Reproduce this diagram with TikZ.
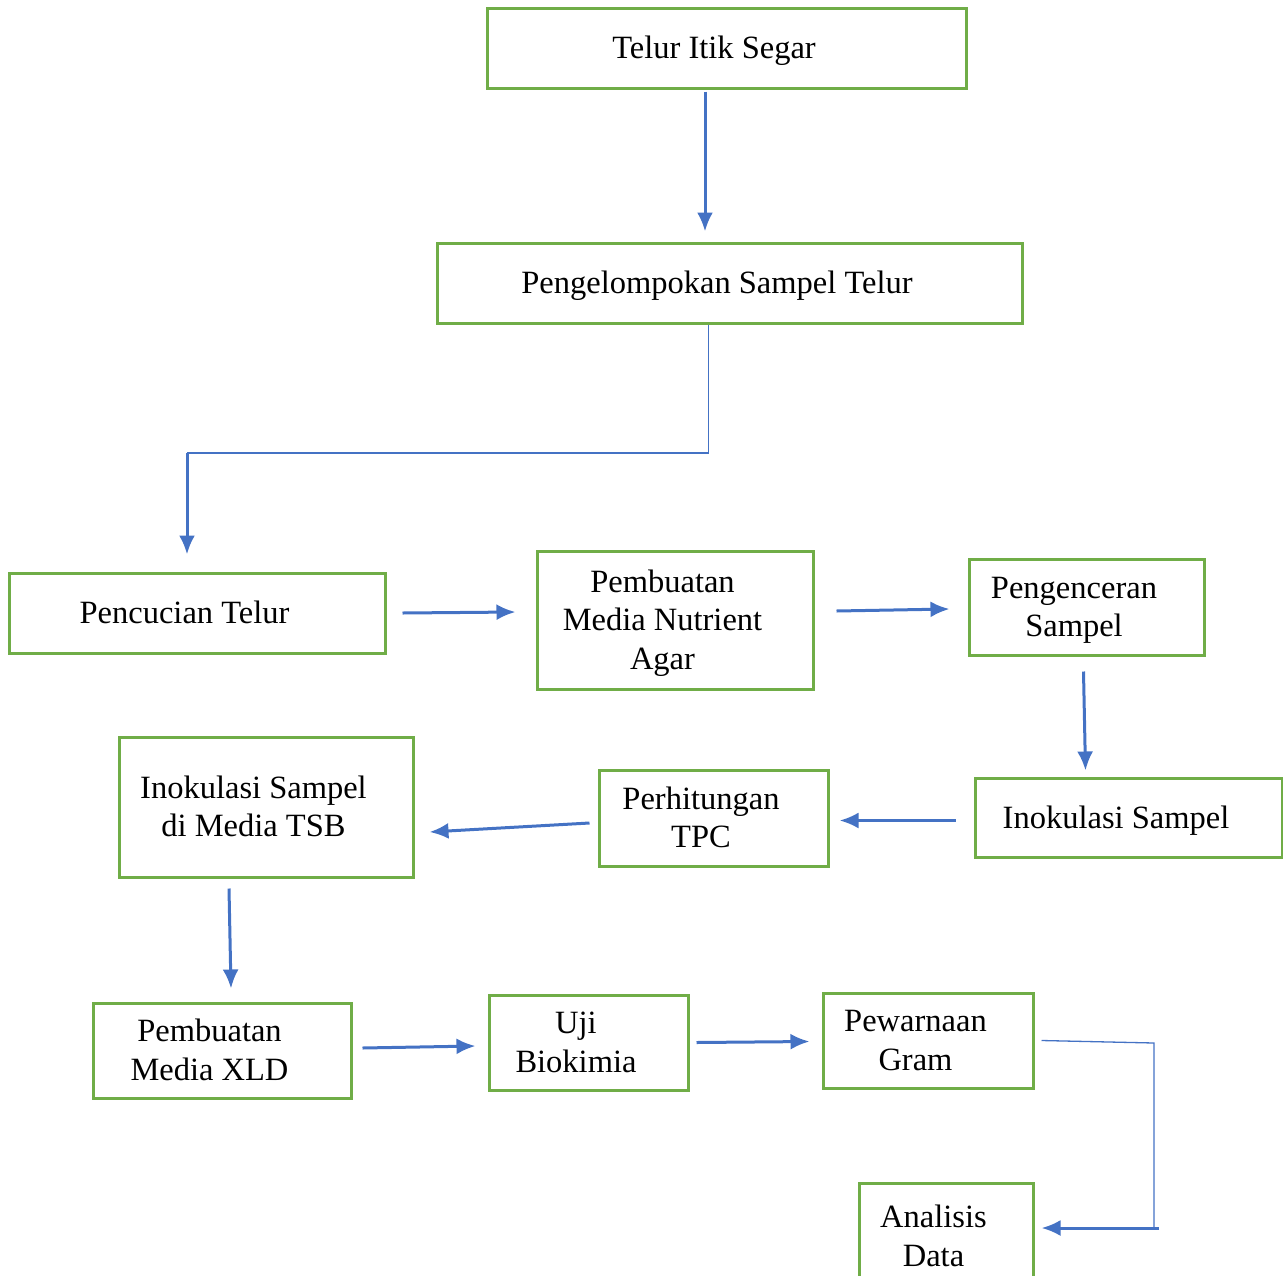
\documentclass[tikz,border=0pt]{standalone}
\usepackage{fontspec}
\setmainfont{Liberation Serif}
\usetikzlibrary{arrows.meta,positioning,calc}
\definecolor{OfficeGreen}{RGB}{112,173,71}
\definecolor{OfficeBlue}{RGB}{68,114,196}
% teks sedikit ke kiri dan ke bawah di dalam kotak
\newcommand{\isi}[1]{\raisebox{-3pt}[\height][\depth]{\hspace*{-12.5pt}%
  \begin{tabular}{@{}c@{}}#1\end{tabular}\hspace*{12.5pt}}}

\begin{document}
\begin{tikzpicture}[x=1pt,y=-1pt,>={Latex[length=19pt,width=16pt]},
  kotak/.style={draw=OfficeGreen,line width=3pt,inner sep=0pt,
    font=\fontsize{32.5}{38.5}\selectfont},
  panah/.style={->,draw=OfficeBlue,line width=3pt},
  garis/.style={draw=OfficeBlue,line width=1.3pt}]
  \useasboundingbox (0,0) rectangle (1283,1275);
  % kotak-kotak
  \node[kotak,minimum width=479pt,minimum height=80pt] (telur) at (726.5,48) {\isi{Telur Itik Segar}};
  \node[kotak,minimum width=585pt,minimum height=80pt] (kelompok) at (729.5,283) {\isi{Pengelompokan Sampel Telur}};
  \node[kotak,minimum width=376pt,minimum height=80pt] (cuci) at (197,613) {\isi{Pencucian Telur}};
  \node[kotak,minimum width=276pt,minimum height=138pt] (nutrient) at (675,620) {\isi{Pembuatan\\Media Nutrient\\Agar}};
  \node[kotak,minimum width=235pt,minimum height=96pt] (encer) at (1086.5,607) {\isi{Pengenceran\\Sampel}};
  \node[kotak,minimum width=307pt,minimum height=79pt] (inokulasi) at (1128.5,817.5) {\isi{Inokulasi Sampel}};
  \node[kotak,minimum width=229pt,minimum height=96pt] (tpc) at (713.5,818) {\isi{Perhitungan\\TPC}};
  \node[kotak,minimum width=294pt,minimum height=140pt] (tsb) at (266,807) {\isi{Inokulasi Sampel\\di Media TSB}};
  \node[kotak,minimum width=258pt,minimum height=95pt] (xld) at (222,1050.5) {\isi{Pembuatan\\Media XLD}};
  \node[kotak,minimum width=199pt,minimum height=95pt] (uji) at (588.5,1042.5) {\isi{Uji\\Biokimia}};
  \node[kotak,minimum width=210pt,minimum height=95pt] (gram) at (928,1040.5) {\isi{Pewarnaan\\Gram}};
  \node[kotak,minimum width=174pt,minimum height=107pt] (analisis) at (946,1236.5) {\isi{Analisis\\Data}};

  % panah
  \coordinate (belok1) at (708.5,453);
  \coordinate (belok2) at (187,453);
  \coordinate (belok3) at (1154,1043);
  \coordinate (belok4) at (1154,1228);
  \draw[panah] ($(telur.south)+(-21.5,2)$) -- ($(kelompok.north)+(-24.5,-10)$);
  \draw[garis] ($(kelompok.south)+(-21,0)$) -- (belok1) -- (belok2);
  \draw[panah] (belok2) -- ($(cuci.north)+(-10,-17)$);
  \draw[panah] ($(cuci.east)+(16,0)$) -- ($(nutrient.west |- cuci.east)+(-20,-1)$);
  \draw[panah] ($(nutrient.east |- encer.west)+(22,4)$) -- ($(encer.west)+(-18,2)$);
  \draw[panah] ($(encer.south)+(-3,15)$) -- ($(encer.south |- inokulasi.north)+(-1,-6)$);
  \draw[panah] ($(inokulasi.west)+(-18,3)$) -- ($(tpc.east |- inokulasi.west)+(10,3)$);
  \draw[panah] ($(tpc.west)+(-8,5)$) -- ($(tsb.east)+(15,25)$);
  \draw[panah] ($(tsb.south)+(-37,10)$) -- ($(xld.north)+(9,-13)$);
  \draw[panah] ($(xld.east)+(10,-2.5)$) -- ($(uji.west)+(-12,3.5)$);
  \draw[panah] ($(uji.east)+(7,0)$) -- ($(gram.west)+(-12,1)$);
  \draw[garis] ($(gram.east)+(7,0)$) -- (belok3) -- (belok4);
  \draw[panah] ($(belok4)+(5,0)$) -- ($(analisis.east |- belok4)+(7,0)$);
\end{tikzpicture}
\end{document}
